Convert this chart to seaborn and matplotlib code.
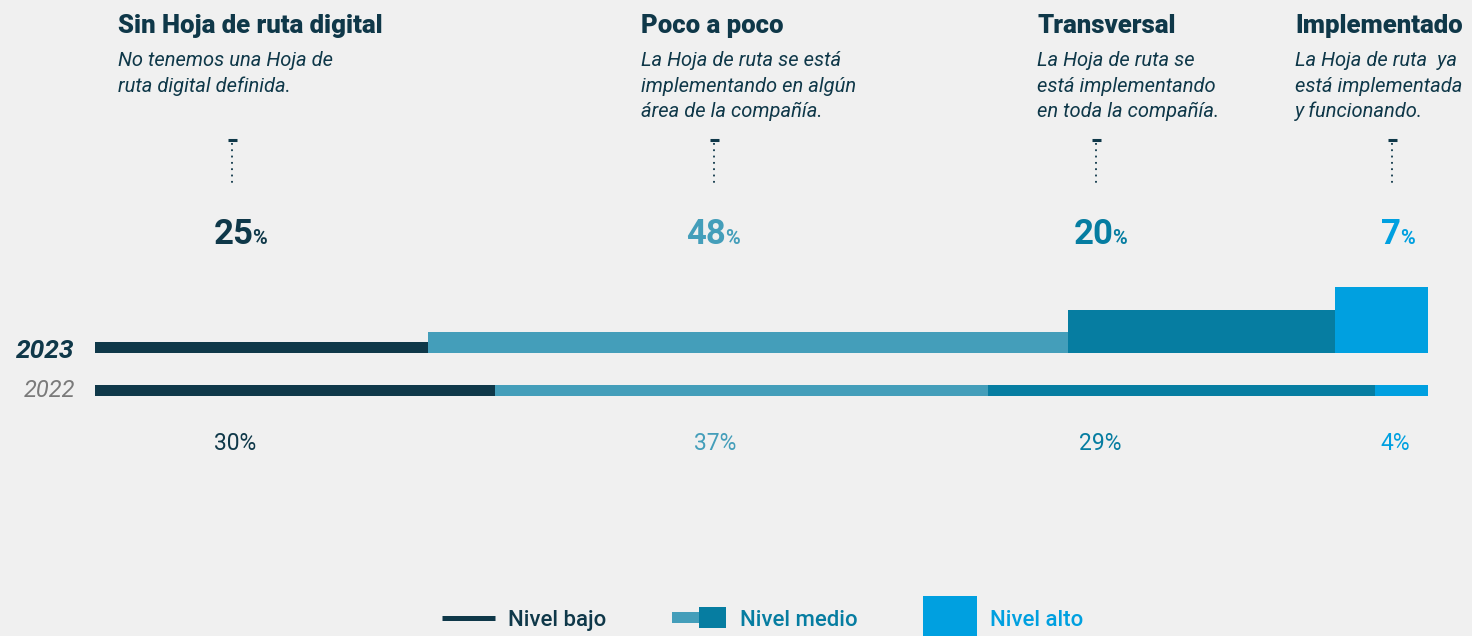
import matplotlib
matplotlib.use("Agg")
import matplotlib.pyplot as plt
import seaborn as sns
from matplotlib.lines import Line2D
from matplotlib.patches import Rectangle

# ---------------------------------------------------------------
# Data
# ---------------------------------------------------------------
levels = ["Sin Hoja de ruta digital", "Poco a poco", "Transversal", "Implementado"]
descriptions = [
    ["No tenemos una Hoja de", "ruta digital definida."],
    ["La Hoja de ruta se está", "implementando en algún", "área de la compañía."],
    ["La Hoja de ruta se", "está implementando", "en toda la compañía."],
    ["La Hoja de ruta  ya", "está implementada", "y funcionando."],
]
years = ["2023", "2022"]
pct_2023 = [25, 48, 20, 7]
pct_2022 = [30, 37, 29, 4]
legend_labels = ["Nivel bajo", "Nivel medio", "Nivel alto"]

# ---------------------------------------------------------------
# Style
# ---------------------------------------------------------------
W, H = 1472, 636
BG = "#F0F0F0"
NAVY = "#0F3849"
TEAL_L = "#449EBA"
TEAL_M = "#067DA1"
BLUE = "#00A0E0"
level_colors = [NAVY, TEAL_L, TEAL_M, BLUE]
heights_2023 = [0.11, 0.21, 0.43, 0.66]   # bar thickness grows with level
height_2022 = 0.11
row_bottom = {"2023": 0.47, "2022": 0.043}

head_x = [118, 641, 1037, 1295]      # headline left edges (px)
guide_x = [232, 714, 1096, 1392]     # dotted guide position (px)
big_x = [241, 713.5, 1101, 1398.5]   # 2023 label centres (px)
small_x = [235, 715, 1100, 1395]     # 2022 label centres (px)

sns.set_theme(style="white")
plt.rcParams["font.family"] = ["Roboto", "DejaVu Sans"]


def fx(px):
    return px / W


def fy(py):
    return 1 - py / H


fig = plt.figure(figsize=(W / 100, H / 100), dpi=100, facecolor=BG)
ax = fig.add_axes([fx(95), fy(400), fx(1428) - fx(95), 120 / H])
ax.set_facecolor(BG)

# stacked bars
for year, vals, hts in [("2023", pct_2023, heights_2023),
                        ("2022", pct_2022, [height_2022] * 4)]:
    left = 0
    for v, h, c in zip(vals, hts, level_colors):
        ax.barh(row_bottom[year], v, height=h, left=left, align="edge",
                color=c, edgecolor="none")
        left += v
ax.set_xlim(0, 100)
ax.set_ylim(0, 1.2)
ax.axis("off")
sns.despine(ax=ax, left=True, bottom=True)

# year labels
fig.text(fx(74), fy(358), years[0], ha="right", va="baseline", fontsize=19,
         fontweight="bold", fontstyle="italic", color=NAVY)
fig.text(fx(75), fy(397), years[1], ha="right", va="baseline", fontsize=17,
         fontstyle="italic", color="#7A7A7A")

# headlines + descriptions + guides
for i, name in enumerate(levels):
    fig.text(fx(head_x[i]), fy(33), name, ha="left", va="baseline",
             fontsize=18.5, fontweight="heavy", color=NAVY)
    for j, line in enumerate(descriptions[i]):
        fig.text(fx(head_x[i]), fy(66 + 25.5 * j), line, ha="left",
                 va="baseline", fontsize=14.5, fontstyle="italic", color=NAVY)
    gx = guide_x[i]
    fig.add_artist(Line2D([fx(gx - 4.5), fx(gx + 4.5)], [fy(140), fy(140)],
                          color=NAVY, lw=2.2, solid_capstyle="butt"))
    fig.add_artist(Line2D([fx(gx), fx(gx)], [fy(143), fy(185)],
                          color=NAVY, lw=1.3, linestyle=(0, (1, 2.5))))

# big 2023 percentages (number + small %)
renderer = fig.canvas.get_renderer()
for i, v in enumerate(pct_2023):
    c = level_colors[i]
    tn = fig.text(0, fy(244), str(v), ha="right", va="baseline", fontsize=25,
                  fontweight="bold", color=c)
    tp = fig.text(0, fy(244), "%", ha="left", va="baseline", fontsize=14.5,
                  fontweight="bold", color=c)
    wn = tn.get_window_extent(renderer).width
    wp = tp.get_window_extent(renderer).width
    split = big_x[i] + (wn - wp) / 2
    tn.set_x(fx(split))
    tp.set_x(fx(split - 1))

# 2022 percentages
for i, v in enumerate(pct_2022):
    fig.text(fx(small_x[i]), fy(450), f"{v}%", ha="center", va="baseline",
             fontsize=16.5, color=level_colors[i])

# legend
fig.add_artist(Line2D([fx(442), fx(495)], [fy(617.5), fy(617.5)], color=NAVY,
                      lw=3.6, solid_capstyle="butt"))
fig.add_artist(Rectangle((fx(672), fy(623)), fx(699) - fx(672), 11 / H,
                         transform=fig.transFigure, color=TEAL_L, lw=0))
fig.add_artist(Rectangle((fx(699), fy(628)), fx(726) - fx(699), 21 / H,
                         transform=fig.transFigure, color=TEAL_M, lw=0))
fig.add_artist(Rectangle((fx(923), fy(636)), fx(977) - fx(923), 40 / H,
                         transform=fig.transFigure, color=BLUE, lw=0))
for lx, lab, c in zip([508, 740, 990], legend_labels, [NAVY, TEAL_M, BLUE]):
    fig.text(fx(lx), fy(626), lab, ha="left", va="baseline", fontsize=16,
             fontweight="medium", color=c)

fig.savefig("out.png", dpi=100, facecolor=BG)
